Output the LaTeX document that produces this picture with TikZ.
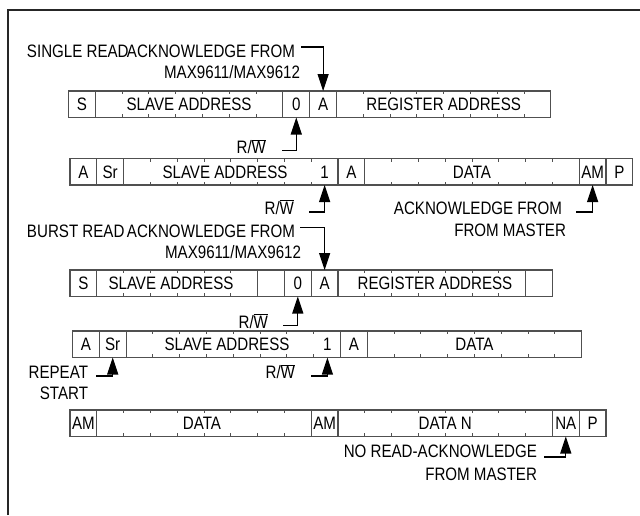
\documentclass[tikz,border=0pt]{standalone}
\usepackage{fontspec}
\setmainfont{Liberation Sans}[FakeStretch=0.84]
\usetikzlibrary{arrows.meta}
\definecolor{boxgray}{HTML}{505050}
\newcommand\tk[2]{\foreach \i in {#2}{\draw[tick] ([xshift=\i*26.8pt]#1.north west) -- ++(0,3.2); \draw[tick] ([xshift=\i*26.8pt]#1.south west) -- ++(0,-3.2);}}
\newcommand\rw{R/$\overline{\mbox{W}}$}
\begin{document}
\begin{tikzpicture}[x=1pt,y=-1pt,
  every node/.style={inner sep=0pt,outer sep=0pt,font=\fontsize{18}{20}\selectfont,text height=12.9pt,text depth=0pt},
  cellbox/.style={draw=boxgray,line width=1.1pt,minimum height=26.5pt,anchor=north west},
  u1/.style={minimum width=26.8pt},
  tick/.style={draw=boxgray,line width=1pt},
  frameline/.style={line width=2pt,draw=black!85},
  arr/.style={line width=1.1pt,-{Triangle[length=17pt,width=11pt]}},
  lbl/.style={anchor=east}]
\useasboundingbox (0,0) rectangle (640,515);
\fill[white] (0,0) rectangle (640,515);
\draw[frameline] (8,515) -- (8,10) -- (640,10);

% Row 1
\node[cellbox,u1] (a1) at (68.5,91) {S};
\node[cellbox,minimum width=187.6pt] (a2) at (95.3,91) {SLAVE ADDRESS};
\node[cellbox,u1] (a3) at (282.9,91) {0};
\node[cellbox,u1] (a4) at (309.7,91) {A};
\node[cellbox,minimum width=214.4pt] (a5) at (336.5,91) {REGISTER ADDRESS};
\tk{a2}{1,...,6} \tk{a5}{1,...,7}

% Row 2
\node[cellbox,u1] (b1) at (70,158.5) {A};
\node[cellbox,u1] (b2) at (96.8,158.5) {Sr};
\node[cellbox,minimum width=214.4pt] (b3) at (123.6,158.5) {};
\node (b3t) at (225,171.75) {SLAVE ADDRESS};
\node (b3b) at (324.6,171.75) {1};
\node[cellbox,u1] (b4) at (338,158.5) {A};
\node[cellbox,minimum width=214.4pt] (b5) at (364.8,158.5) {DATA};
\node[cellbox,u1] (b6) at (579.2,158.5) {AM};
\node[cellbox,u1] (b7) at (606,158.5) {P};
\tk{b3}{1,...,7} \tk{b5}{1,...,7}

% Row 3
\node[cellbox,u1] (c1) at (70,270) {S};
\node[cellbox,minimum width=160.8pt] (c2) at (96.8,270) {};
\node (c2t) at (171,283.25) {SLAVE ADDRESS};
\node[cellbox,u1] (c3) at (257.6,270) {};
\node[cellbox,u1] (c4) at (284.4,270) {0};
\node[cellbox,u1] (c5) at (311.2,270) {A};
\node[cellbox,minimum width=187.6pt] (c6) at (338,270) {};
\node (c6t) at (435,283.25) {REGISTER ADDRESS};
\node[cellbox,u1] (c7) at (525.6,270) {};
\tk{c2}{1,...,5} \tk{c6}{1,...,6}

% Row 4
\node[cellbox,u1] (d1) at (72.5,331) {A};
\node[cellbox,u1] (d2) at (99.3,331) {Sr};
\node[cellbox,minimum width=214.4pt] (d3) at (126.1,331) {};
\node (d3t) at (227,344.25) {SLAVE ADDRESS};
\node (d3b) at (327.4,344.25) {1};
\node[cellbox,u1] (d4) at (340.5,331) {A};
\node[cellbox,minimum width=214.4pt] (d5) at (367.3,331) {DATA};
\tk{d3}{1,...,7} \tk{d5}{1,...,7}

% Row 5
\node[cellbox,u1] (e1) at (70,410) {AM};
\node[cellbox,minimum width=214.4pt] (e2) at (96.8,410) {};
\node (e2t) at (202,423.25) {DATA};
\node[cellbox,u1] (e3) at (311.2,410) {AM};
\node[cellbox,minimum width=214.4pt] (e4) at (338,410) {DATA N};
\node[cellbox,u1] (e5) at (552.4,410) {NA};
\node[cellbox,u1] (e6) at (579.2,410) {P};
\tk{e2}{1,...,7} \tk{e4}{1,...,7}

% Labels and arrows
\node[anchor=west] (l1a) at (27,51) {SINGLE READ};
\node[lbl] (l1b) at (295,51) {ACKNOWLEDGE FROM};
\node[lbl] (l1c) at (300,72.5) {MAX9611/MAX9612};
\coordinate (k1) at (301,47);
\draw[arr] (k1) -| (a4.north);

\node[lbl] (l2) at (266,147.5) {\rw};
\coordinate (k2) at (282,150.5);
\draw[arr] (k2) -| (a3.south);

\node[lbl] (l3) at (294,208) {\rw};
\coordinate (k3) at (309,212);
\draw[arr] (k3) -| (b3b.center |- b3.south);

\node[lbl] (l4a) at (562,208) {ACKNOWLEDGE FROM};
\node[lbl] (l4b) at (566,230) {FROM MASTER};
\coordinate (k4) at (576,212);
\draw[arr] (k4) -| (b6.south);

\node[anchor=west] (l5a) at (27,231) {BURST READ};
\node[lbl] (l5b) at (295,231) {ACKNOWLEDGE FROM};
\node[lbl] (l5c) at (301,252.5) {MAX9611/MAX9612};
\coordinate (k5) at (300,227.5);
\draw[arr] (k5) -| (c5.north);

\node[lbl] (l6) at (268,322) {\rw};
\coordinate (k6) at (283,325.5);
\draw[arr] (k6) -| (c4.south);

\node[lbl] (l7a) at (88,372.5) {REPEAT};
\node[lbl] (l7b) at (88,393) {START};
\coordinate (k7) at (96,376);
\draw[arr] (k7) -| (d2.south);

\node[lbl] (l8) at (295,372.5) {\rw};
\coordinate (k8) at (311,376);
\draw[arr] (k8) -| (d3b.center |- d3.south);

\node[lbl] (l9a) at (537,451) {NO READ-ACKNOWLEDGE};
\node[lbl] (l9b) at (537,474) {FROM MASTER};
\coordinate (k9) at (544,457);
\draw[arr] (k9) -| (e5.south);
\end{tikzpicture}
\end{document}
